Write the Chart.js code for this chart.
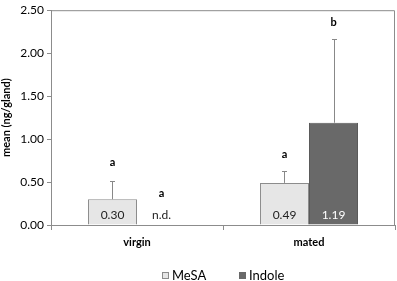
<!DOCTYPE html>
<html><head><meta charset="utf-8">
<script src="https://cdn.jsdelivr.net/npm/chart.js@4"></script>
<style>html,body{margin:0;padding:0;background:#fff}#w{width:397px;height:281px}</style>
</head><body><div id="w"><canvas id="c"></canvas></div>
<script>
const categories = ["virgin", "mated"];
const seriesNames = ["MeSA", "Indole"];
const mesaMean = [0.30, 0.49];
const indoleMean = [0, 1.19];
const mesaErrTop = [0.51, 0.63];
const indoleErrTop = [null, 2.17];
const mesaLetters = ["a", "a"];
const indoleLetters = ["a", "b"];
const mesaLabels = ["0.30", "0.49"];
const indoleLabels = ["n.d.", "1.19"];
const yTicks = [0, 0.5, 1.0, 1.5, 2.0, 2.5];

const FONT = "Lato, 'Open Sans', sans-serif";
const errTops = [mesaErrTop, indoleErrTop];
const letters = [mesaLetters, indoleLetters];
const valLabels = [mesaLabels, indoleLabels];

const annot = {
  id: 'annot',
  afterDatasetsDraw(chart) {
    const {ctx, chartArea: a, scales: {x, y}} = chart;
    ctx.save();
    ctx.strokeStyle = '#8c8c8c'; ctx.lineWidth = 1;
    ctx.beginPath();
    ctx.moveTo(a.left, a.top + 0.5); ctx.lineTo(a.right - 0.5, a.top + 0.5); ctx.lineTo(a.right - 0.5, a.bottom);
    ctx.stroke();
    chart.data.datasets.forEach((ds, di) => {
      const meta = chart.getDatasetMeta(di);
      meta.data.forEach((bar, i) => {
        const cx = Math.round(bar.x) + 0.5;
        const top = errTops[di][i];
        const v = ds.data[i];
        if (top != null) {
          const yt = Math.round(y.getPixelForValue(top)) + 0.5;
          const yb = y.getPixelForValue(v);
          ctx.strokeStyle = '#888'; ctx.lineWidth = 1;
          ctx.beginPath();
          ctx.moveTo(cx, yb); ctx.lineTo(cx, yt);
          ctx.moveTo(cx - 2.5, yt); ctx.lineTo(cx + 2.5, yt);
          ctx.stroke();
        }
        const ref = top != null ? top : v;
        const ly = y.getPixelForValue(ref);
        const lyy = ly - (di === 0 ? (i === 0 ? 19 : 16) : (i === 0 ? 32 : 16));
        ctx.fillStyle = '#000';
        ctx.font = "bold 11px " + FONT;
        ctx.textAlign = 'center'; ctx.textBaseline = 'middle';
        ctx.fillText(letters[di][i], bar.x, lyy);
        ctx.font = "12px " + FONT;
        ctx.fillStyle = (di === 1 && v > 0) ? '#fff' : '#222';
        ctx.fillText(valLabels[di][i], bar.x, y.getPixelForValue(0) - 10);
      });
    });
    // legend
    const mid = (a.left + a.right) / 2;
    const ly = chart.height - 5;
    ctx.font = "13px " + FONT;
    ctx.textAlign = 'left'; ctx.textBaseline = 'middle';
    const items = chart.data.datasets.map((d, i) => ({ d, w: 10 + ctx.measureText(d.label).width }));
    const gap = 33;
    const total = items.reduce((s, it) => s + it.w, 0) + gap;
    let xx = Math.round(mid - total / 2);
    items.forEach((it, i) => {
      ctx.fillStyle = it.d.backgroundColor;
      ctx.fillRect(xx, ly - 4, 7, 7);
      if (i === 0) { ctx.strokeStyle = '#8c8c8c'; ctx.strokeRect(xx + 0.5, ly - 3.5, 6, 6); }
      ctx.fillStyle = '#000';
      ctx.fillText(it.d.label, xx + 10, ly);
      xx += Math.round(it.w + gap);
    });
    ctx.restore();
  }
};

new Chart(document.getElementById('c'), {
  type: 'bar',
  data: {
    labels: categories,
    datasets: [
      { label: seriesNames[0], data: mesaMean, backgroundColor: '#e6e6e6', borderColor: '#8c8c8c', borderWidth: 1 },
      { label: seriesNames[1], data: indoleMean, backgroundColor: '#696969', borderColor: '#5a5a5a', borderWidth: 1 }
    ]
  },
  options: {
    responsive: true, maintainAspectRatio: false, animation: false,
    devicePixelRatio: 1,
    layout: { padding: { top: 4, right: 2, left: 0, bottom: 22 } },
    datasets: { bar: { categoryPercentage: 0.57, barPercentage: 1.0 } },
    plugins: { tooltip: { enabled: false }, legend: { display: false } },
    scales: {
      x: {
        grid: { offset: true, drawOnChartArea: false, tickLength: 5, color: '#8c8c8c' },
        border: { color: '#8c8c8c' },
        ticks: { color: '#000', font: { family: FONT, size: 11, weight: 'bold' }, padding: 6 },
        afterFit(s) { s.height = 34; }
      },
      y: {
        min: 0, max: 2.5,
        afterBuildTicks(s) { s.ticks = yTicks.map(v => ({ value: v })); },
        grid: { drawOnChartArea: false, tickLength: 4, color: '#8c8c8c' },
        border: { color: '#8c8c8c' },
        ticks: { color: '#000', font: { family: FONT, size: 12 }, padding: 3, callback: v => v.toFixed(2) },
        title: { display: true, text: 'mean (ng/gland)', color: '#000', font: { family: FONT, size: 11, weight: 'bold' }, padding: 0 },
        afterFit(s) { s.width = 51; }
      }
    }
  },
  plugins: [annot]
});
</script></body></html>
